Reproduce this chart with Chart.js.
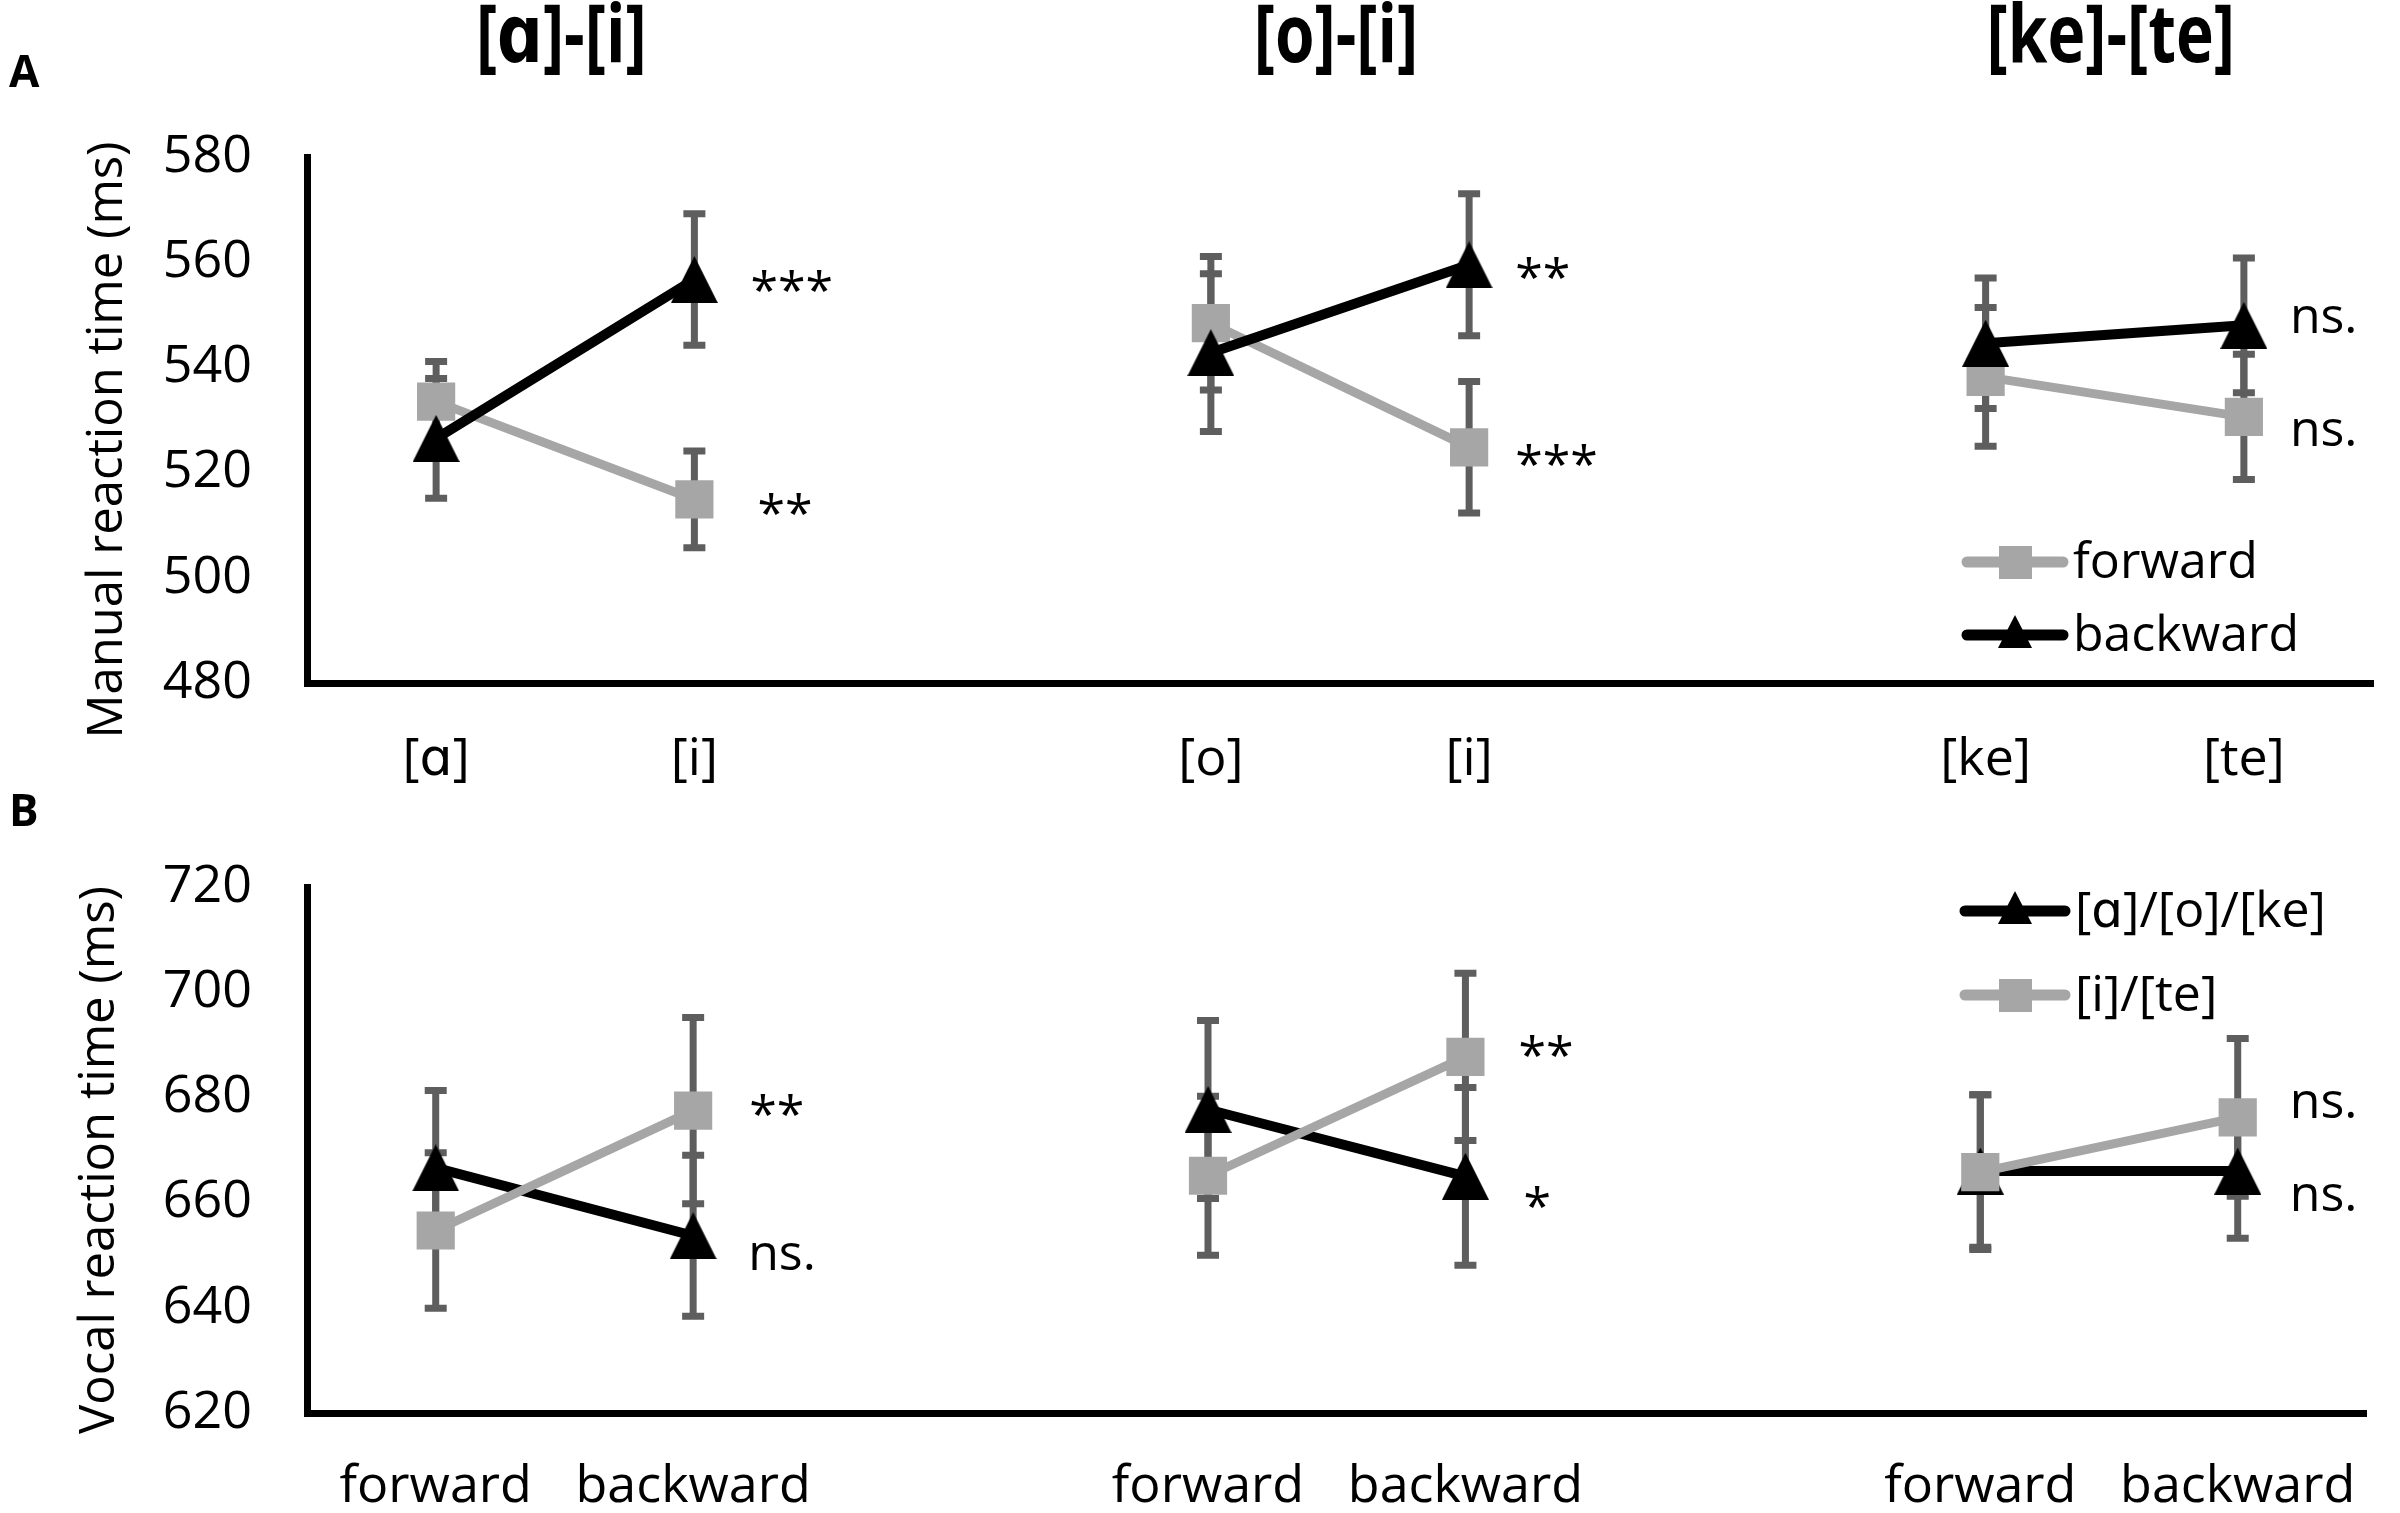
<!DOCTYPE html>
<html>
<head>
<meta charset="utf-8">
<script src="https://cdn.jsdelivr.net/npm/chart.js@4.4.1/dist/chart.umd.min.js"></script>
<style>
  html, body { margin: 0; padding: 0; background: #fff; }
  #wrap { position: relative; width: 2400px; height: 1513px; }
  #wrap canvas { position: absolute; left: 0; }
  #chartA { top: 0; }
  #chartB { top: 780px; }
</style>
</head>
<body>
<div id="wrap">
  <canvas id="chartA" width="2400" height="830"></canvas>
  <canvas id="chartB" width="2400" height="733"></canvas>
</div>
<script>
// --- DATA ---
const categoriesA = ['[ɑ]', '[i]', '', '[o]', '[i]', '', '[ke]', '[te]'];
const categoriesB = ['forward', 'backward', '', 'forward', 'backward', '', 'forward', 'backward'];
const groupTitles = ['[ɑ]-[i]', '[o]-[i]', '[ke]-[te]'];
const groupPairs = [[0, 1], [3, 4], [6, 7]];
const ticksA = [480, 500, 520, 540, 560, 580];
const ticksB = [620, 640, 660, 680, 700, 720];

// A: manual reaction time (ms), means and error bars
const forwardA     = [533.5, 514.9, null, 548.4, 524.8, null, 538.2, 530.6];
const forwardErrA  = [7.6, 9.2, null, 12.7, 12.5, null, 13.2, 11.9];
const backwardA    = [526.5, 556.7, null, 542.8, 559.5, null, 544.6, 548.0];
const backwardErrA = [11.4, 12.5, null, 15.0, 13.5, null, 12.4, 12.8];

// B: vocal reaction time (ms)
const firstVowelB     = [666.6, 653.7, null, 677.7, 665.0, null, 666.0, 666.0];
const firstVowelErrB  = [14.7, 15.3, null, 16.9, 16.9, null, 14.5, 12.8];
const secondVowelB    = [654.7, 677.5, null, 665.1, 687.7, null, 665.8, 676.2];
const secondVowelErrB = [14.8, 17.7, null, 15.1, 15.9, null, 14.7, 15.0];

// significance marks: [dataset, index, text]
const marksA = [[1, 1, '***'], [0, 1, '**'], [1, 4, '**'], [0, 4, '***'], [1, 7, 'ns.'], [0, 7, 'ns.']];
const marksB = [[1, 1, '**'], [0, 1, 'ns.'], [1, 4, '**'], [0, 4, '*'], [1, 7, 'ns.'], [0, 7, 'ns.']];

// --- STYLE / LAYOUT ---
const FONT = "'Open Sans', 'DejaVu Sans', sans-serif";
const GREY = '#a6a6a6';
const ERR_COLOR = '#5e5e5e';
const markOffsetsA = [[56, 14], [63, 17], [46, 16], [46, 20], [46, -7], [46, 15]];
const markOffsetsB = [[56, 7], [55, 20], [53, 2], [58, 33], [52, -14], [52, 26]];

function makeTriangle(w, h) {
    const c = document.createElement('canvas');
    c.width = w; c.height = h;
    const g = c.getContext('2d');
    g.fillStyle = '#000';
    g.beginPath();
    g.moveTo(w / 2, 0);
    g.lineTo(w, h);
    g.lineTo(0, h);
    g.closePath();
    g.fill();
    return c;
}
const triangle = makeTriangle(47, 47);

// error bars drawn from data through the y scale
const errorBars = {
    id: 'errorBars',
    beforeDatasetsDraw(chart) {
        const { ctx, scales: { x, y } } = chart;
        ctx.save();
        ctx.strokeStyle = ERR_COLOR;
        ctx.lineWidth = 7;
        chart.data.datasets.forEach(ds => {
            ds.data.forEach((v, i) => {
                if (v == null) return;
                const e = ds.errors[i];
                const px = x.getPixelForValue(i);
                const top = y.getPixelForValue(v + e);
                const bot = y.getPixelForValue(v - e);
                ctx.beginPath();
                ctx.moveTo(px, top); ctx.lineTo(px, bot);
                ctx.moveTo(px - 11, top); ctx.lineTo(px + 11, top);
                ctx.moveTo(px - 11, bot); ctx.lineTo(px + 11, bot);
                ctx.stroke();
            });
        });
        ctx.restore();
    }
};

function makeChart(id, cfg) {
    const extras = {
        id: 'extras',
        afterDatasetsDraw(chart) {
            const { ctx } = chart;
            ctx.save();
            ctx.fillStyle = '#000';
            ctx.textAlign = 'left';
            ctx.textBaseline = 'middle';
            ctx.font = '50px ' + FONT;
            cfg.marks.forEach((m, k) => {
                const pt = chart.getDatasetMeta(m[0]).data[m[1]];
                ctx.fillText(m[2], pt.x + cfg.markOffsets[k][0], pt.y + cfg.markOffsets[k][1]);
            });
            ctx.restore();
        },
        afterDraw(chart) {
            const { ctx, scales: { x } } = chart;
            ctx.save();
            ctx.fillStyle = '#000';
            // panel letter
            ctx.textBaseline = 'alphabetic';
            ctx.textAlign = 'left';
            ctx.font = 'bold 44px ' + FONT;
            ctx.fillText(cfg.letter, 9, cfg.letterY);
            // y axis title
            ctx.save();
            ctx.translate(cfg.yTitlePos[0], cfg.yTitlePos[1]);
            ctx.rotate(-Math.PI / 2);
            ctx.textAlign = 'center';
            ctx.textBaseline = 'middle';
            ctx.font = '49px ' + FONT;
            ctx.fillText(cfg.yTitle, 0, 0);
            ctx.restore();
            // group titles
            if (cfg.titles) {
                ctx.textAlign = 'center';
                ctx.textBaseline = 'middle';
                ctx.font = 'bold 64px ' + FONT;
                groupTitles.forEach((t, k) => {
                    const cx = (x.getPixelForValue(groupPairs[k][0]) + x.getPixelForValue(groupPairs[k][1])) / 2;
                    ctx.save();
                    ctx.translate(cx - 4, 39);
                    ctx.scale(1, 1.25);
                    ctx.fillText(t, 0, 0);
                    ctx.restore();
                });
            }
            // legend inside plot
            const L = cfg.legend;
            ctx.font = '50px ' + FONT;
            ctx.textAlign = 'left';
            ctx.textBaseline = 'alphabetic';
            chart.data.datasets.forEach((ds, k) => {
                const yy = L.y + k * L.gap;
                ctx.strokeStyle = ds.borderColor;
                ctx.lineWidth = 11;
                ctx.lineCap = 'round';
                ctx.beginPath();
                ctx.moveTo(L.x1, yy); ctx.lineTo(L.x2, yy);
                ctx.stroke();
                const mx = (L.x1 + L.x2) / 2;
                ctx.fillStyle = ds.pointBackgroundColor;
                if (ds.pointStyle === 'rect') {
                    ctx.fillRect(mx - 16, yy - 16, 33, 33);
                } else {
                    ctx.beginPath();
                    ctx.moveTo(mx, yy - 20); ctx.lineTo(mx + 17, yy + 13); ctx.lineTo(mx - 17, yy + 13);
                    ctx.closePath(); ctx.fill();
                }
                ctx.fillStyle = '#000';
                ctx.fillText(ds.label, L.x2 + 10, yy + 16);
            });
            ctx.restore();
        }
    };

    return new Chart(document.getElementById(id), {
        type: 'line',
        data: { labels: cfg.labels, datasets: cfg.datasets },
        options: {
            responsive: false,
            animation: false,
            devicePixelRatio: 1,
            layout: { padding: { top: cfg.padTop, right: 10, bottom: 0, left: 0 } },
            plugins: { legend: { display: false }, tooltip: { enabled: false } },
            scales: {
                x: {
                    type: 'category',
                    offset: true,
                    grid: { display: false, drawTicks: false },
                    border: { display: true, color: '#000', width: 7 },
                    ticks: { color: '#000', font: { family: FONT, size: 52, lineHeight: 1.2 },
                             padding: cfg.xPad, autoSkip: false, maxRotation: 0 },
                    afterFit: s => { s.height = cfg.xHeight; }
                },
                y: {
                    min: cfg.ticks[0],
                    max: cfg.ticks[cfg.ticks.length - 1],
                    grid: { display: false, drawTicks: false },
                    border: { display: true, color: '#000', width: 7 },
                    ticks: { stepSize: cfg.ticks[1] - cfg.ticks[0], color: '#000',
                             font: { family: FONT, size: 52 }, padding: 55 },
                    afterFit: s => { s.width = 307; }
                }
            }
        },
        plugins: [errorBars, extras]
    });
}

function series(label, data, errors, color, style, order) {
    return {
        label, data, errors,
        borderColor: color,
        borderWidth: color === '#000' ? 10 : 9,
        pointBackgroundColor: color,
        pointBorderColor: color,
        pointBorderWidth: 0,
        pointStyle: style === 'rect' ? 'rect' : triangle,
        pointRadius: 27,
        tension: 0,
        spanGaps: false,
        order
    };
}

const dsA = [
    series('forward', forwardA, forwardErrA, GREY, 'rect', 2),
    series('backward', backwardA, backwardErrA, '#000', 'tri', 1)
];

const dsB = [
    series('[ɑ]/[o]/[ke]', firstVowelB, firstVowelErrB, '#000', 'tri', 2),
    series('[i]/[te]', secondVowelB, secondVowelErrB, GREY, 'rect', 1)
];

makeChart('chartA', {
    labels: categoriesA, datasets: dsA, ticks: ticksA,
    yTitle: 'Manual reaction time (ms)', yTitlePos: [108, 440],
    padTop: 157, xHeight: 147, xPad: 46,
    marks: marksA, markOffsets: markOffsetsA,
    letter: 'A', letterY: 87, titles: true,
    legend: { x1: 1967, x2: 2063, y: 562, gap: 73 }
});

makeChart('chartB', {
    labels: categoriesB, datasets: dsB, ticks: ticksB,
    yTitle: 'Vocal reaction time (ms)', yTitlePos: [100, 380],
    padTop: 107, xHeight: 100, xPad: 43,
    marks: marksB, markOffsets: markOffsetsB,
    letter: 'B', letterY: 46, titles: false,
    legend: { x1: 1965, x2: 2065, y: 131, gap: 84 }
});
</script>
</body>
</html>
